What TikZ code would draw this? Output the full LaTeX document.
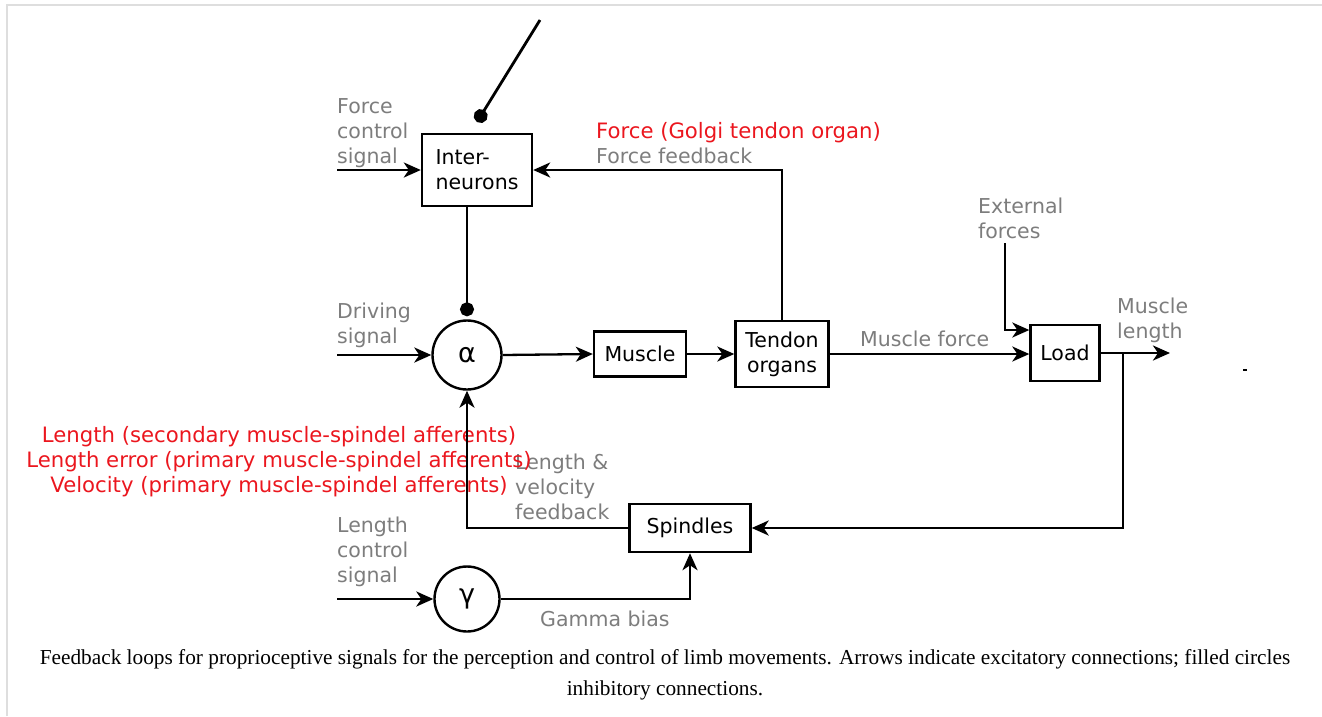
\documentclass[tikz,border=0pt]{standalone}
\usepackage{fontspec}
\setmainfont{DejaVu Sans}
\newfontfamily\captionfont{Liberation Serif}
\usetikzlibrary{calc}
\usetikzlibrary{arrows.meta}

\definecolor{sigGray}{RGB}{125,125,125}
\definecolor{sigRed}{RGB}{235,22,30}
\definecolor{frameGray}{RGB}{222,222,222}

\tikzset{
  block/.style={draw, line width=2.4pt, inner sep=0pt, align=center, font=\fontsize{20.5}{25}\selectfont},
  neuron/.style={draw, circle, line width=2.4pt, inner sep=0pt, font=\fontsize{27}{27}\selectfont},
  lbl/.style={text=sigGray, align=left, inner sep=0pt, anchor=base west, font=\fontsize{20.5}{25}\selectfont},
  redlbl/.style={text=sigRed, inner sep=0pt, font=\fontsize{21.2}{25}\selectfont},
  excite/.style={line width=2.8pt, -{Stealth[length=17pt,width=15pt,inset=5pt]}},
  inhibit/.style={line width=2.8pt, -{Circle[length=14pt]}}
}

\begin{document}
\begin{tikzpicture}[x=1pt, y=-1pt]
  \useasboundingbox (0,0) rectangle (1322,716);
  \draw[frameGray, line width=2pt] (7,716) -- (7,5) -- (1322,5);

  % blocks and neurons
  \node[block, minimum width=110pt, minimum height=72pt, align=left] (inter) at (477,170) {Inter-\\neurons};
  \node[neuron, minimum size=69pt] (alpha) at (467,355) {α};
  \node[neuron, minimum size=65pt] (gamma) at (467,599) {γ};
  \node[block, minimum width=92pt, minimum height=45pt] (muscle) at (640,354) {Muscle};
  \node[block, minimum width=93pt, minimum height=66pt] (tendon) at (782,354) {Tendon\\organs};
  \node[block, minimum width=69pt, minimum height=56pt] (load) at (1065,353) {Load};
  \node[block, minimum width=121pt, minimum height=48pt] (spindles) at (690,528) {Spindles};

  \coordinate (fcsIn) at (337,170);
  \coordinate (drvIn) at (337,355);
  \coordinate (lcsIn) at (337,599);
  \coordinate (extIn) at (1005,243);
  \coordinate (lenOut) at (1170,353);
  \coordinate (lenTap) at (1123,353);
  \coordinate (switchTop) at (540,20);
  \coordinate (switchEnd) at (477,122);

  % labels
  \node[lbl] (fcsLbl) at (337,163) {Force\\control\\signal};
  \node[redlbl, anchor=base west] (golgiLbl) at (596,138) {Force (Golgi tendon organ)};
  \node[lbl] (ffbLbl) at (596,163) {Force feedback};
  \node[lbl] (drvLbl) at (337,343) {Driving\\signal};
  \node[lbl] (extLbl) at (978,238) {External\\forces};
  \node[lbl] (mfLbl) at (860,346) {Muscle force};
  \node[lbl] (mlLbl) at (1117,338) {Muscle\\length};
  \node[lbl] (lvfLbl) at (515,519) {Length \&\\velocity\\feedback};
  \node[lbl] (lcsLbl) at (337,582) {Length\\control\\signal};
  \node[lbl] (gbLbl) at (540,626) {Gamma bias};
  \node[redlbl, align=center, anchor=base] (spindleLbl) at (279,492)
    {Length (secondary muscle-spindel afferents)\\Length error (primary muscle-spindel afferents)\\Velocity (primary muscle-spindel afferents)};

  % connections
  \draw[excite] (fcsIn) -- (inter.west);
  \draw[inhibit] (switchTop) -- (switchEnd);
  \draw[inhibit, shorten >=3pt] (inter.south -| alpha.north) -- (alpha.north);
  \draw[excite] (drvIn) -- (alpha.west);
  \draw[excite, line width=2.3pt] (alpha.east) -- (muscle.west);
  \draw[excite, line width=2.3pt] (muscle.east) -- (tendon.west);
  \draw[excite] (tendon.north) |- (inter.east);
  \draw[excite, line width=2.3pt] (tendon.east) -- (tendon.east -| load.west);
  \draw[excite, line width=2.3pt] (extIn) |- ($(load.west)+(0,-23)$);
  \draw[excite] (load.east) -- (lenOut);
  \draw[excite] (lenTap) |- (spindles.east);
  \draw[excite] (spindles.west) -| (alpha.south);
  \draw[excite] (lcsIn) -- (gamma.west);
  \draw[excite] (gamma.east) -| (spindles.south);
  \draw[line width=1.5pt] (1243,370) -- (1247,370);

  \node[font=\captionfont\fontsize{21.3}{31}\selectfont, align=center, anchor=base] (caption) at (665,695)
    {Feedback loops for proprioceptive signals for the perception and control of limb movements. Arrows indicate excitatory connections; filled circles\\inhibitory connections.};
\end{tikzpicture}
\end{document}
